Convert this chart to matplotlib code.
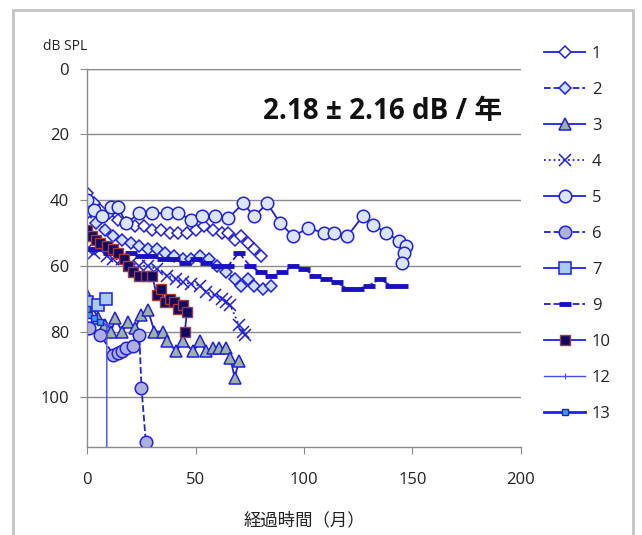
import matplotlib
matplotlib.use("Agg")
import matplotlib.pyplot as plt
from matplotlib.patches import Rectangle

plt.rcParams['font.family'] = ['Open Sans', 'Noto Sans CJK JP', 'DejaVu Sans']

# ---- data (months, dB SPL) ----
x1 = [0, 3, 6, 10, 14, 18, 22, 26, 30, 34, 38, 42, 46, 50, 54, 58, 62, 65, 68, 71, 74, 77, 80]
y1 = [38, 41, 43, 44, 46, 47, 48, 48, 49, 49, 50, 50, 50, 49, 48, 49, 50, 50, 52, 51, 53, 55, 57]

x2 = [0, 4, 8, 12, 16, 20, 24, 28, 32, 36, 40, 44, 48, 52, 56, 60, 64, 68, 71, 74, 77, 81, 85]
y2 = [44, 47, 49, 51, 52, 53, 54, 55, 55, 56, 57, 58, 58, 57, 58, 60, 62, 64, 66, 64, 66, 67, 66]

x3 = [0, 2, 5, 8, 11, 13, 16, 19, 22, 25, 28, 31, 35, 37, 41, 44, 49, 52, 55, 58, 61, 64, 66, 68, 70]
y3 = [69, 72, 76, 78, 80, 76, 80, 77, 79, 75, 73.5, 80, 80, 83, 86, 83, 86, 83, 86, 85, 85, 85, 88, 94, 89]

x4 = [0, 3, 6, 9, 12, 16, 20, 24, 28, 32, 37, 41, 44, 48, 52, 55, 59, 62, 64, 66, 70, 72, 73]
y4 = [55, 56, 55, 57, 58, 58, 59, 60, 60, 61, 63, 64, 65, 65.5, 66, 68, 69, 70, 71, 72, 78, 80, 81]

x5 = [0, 3, 7, 11, 14, 18, 24, 30, 37, 42, 48, 53, 59, 65, 72, 77, 83, 89, 95, 102, 109, 114, 120, 127, 132, 138, 144, 147, 146, 145]
y5 = [40, 43, 45, 42, 42, 47, 44, 44, 44, 44, 46, 45, 45, 45.5, 41, 45, 41, 47, 51, 48.5, 50, 50, 51, 45, 47.5, 50, 52.5, 54, 56, 59]

x6 = [0, 1, 6, 12, 14, 16, 18, 21, 24, 25, 27]
y6 = [79, 79, 81, 87, 86.5, 86, 85, 84.5, 81, 97, 113.5]

x7 = [0, 5, 8.5]
y7 = [71, 72, 70]

x9 = [0, 5, 10, 15, 20, 25, 30, 35, 40, 45, 50, 55, 60, 65, 70, 75, 80, 85, 90, 95, 100, 105, 110, 115, 120, 125, 130, 135, 140, 145]
y9 = [55, 55, 56, 57, 56, 57, 57, 58, 58, 59, 58, 59, 60, 60, 56, 60, 62, 63, 62, 60, 61, 63, 64, 65, 67, 67, 66, 64, 66, 66]

x10 = [0, 2, 4, 6, 9, 12, 14, 17, 19, 21, 24, 27, 30, 32, 34, 36, 38, 40, 42, 44, 46, 45]
y10 = [49, 51, 52, 53, 54, 55, 56, 58, 60, 62, 63, 63, 63, 69, 67, 71, 70, 71, 73, 72, 74, 80]

x12 = [0, 3, 6, 9, 9]
y12 = [74, 76, 77, 78, 130]

x13 = [0, 1, 3, 6]
y13 = [73, 75, 76, 77]

labels = ['1', '2', '3', '4', '5', '6', '7', '9', '10', '12', '13']
xticks = [0, 50, 100, 150, 200]
yticks = [0, 20, 40, 60, 80, 100]

blue = '#1f1fe6'
fig = plt.figure(figsize=(6.42, 5.35), dpi=100)
fig.patches.append(Rectangle((13 / 642, -0.05), (633 - 13) / 642, 1 - 10 / 535 + 0.05,
                             transform=fig.transFigure, fill=False,
                             edgecolor='#c4c4c4', linewidth=2))
ax = fig.add_axes([87.3 / 642, 1 - 446.7 / 535, (520.7 - 87.3) / 642, (446.7 - 68.5) / 535])

common = dict(color=blue, linewidth=1.3, markeredgecolor=blue, markeredgewidth=1.1)
ax.plot(x1, y1, marker='D', markersize=6, markerfacecolor='white', linestyle='-', label=labels[0], **common)
ax.plot(x2, y2, marker='D', markersize=6, markerfacecolor='#cfe0fa', linestyle='--', label=labels[1], **common)
ax.plot(x3, y3, marker='^', markersize=8, markerfacecolor='#9db39b', linestyle='-', label=labels[2], **common)
ax.plot(x4, y4, marker='x', markersize=9, linestyle=':', label=labels[3], **common)
ax.plot(x5, y5, marker='o', markersize=9, markerfacecolor='#dbe6fa', linestyle='-', label=labels[4], **common)
ax.plot(x6, y6, marker='o', markersize=9, markerfacecolor='#aeb0dc', linestyle='--', label=labels[5], **common)
ax.plot(x7, y7, marker='s', markersize=8, markerfacecolor='#a9cdf2', linestyle='-', label=labels[6], **common)
ax.plot(x9, y9, marker='_', markersize=9, linestyle='--', color='#2a1fd0', linewidth=1.3,
        markeredgecolor='#1a10c0', markeredgewidth=3.5, label=labels[7])
ax.plot(x10, y10, marker='s', markersize=7, markerfacecolor='#0d0a66', markeredgecolor='#a83a3a',
        markeredgewidth=1.0, color=blue, linewidth=1.3, linestyle='-', label=labels[8])
ax.plot(x12, y12, marker='+', markersize=5, color='#4a4af0', linewidth=1.0, linestyle='-',
        markeredgewidth=0.8, label=labels[9])
ax.plot(x13, y13, marker='s', markersize=5, markerfacecolor='#3fa0d8', markeredgecolor=blue,
        markeredgewidth=1.0, color=blue, linewidth=2.0, linestyle='-', label=labels[10])

ax.set_xlim(0, 200)
ax.set_ylim(115, 0)
ax.set_xticks(xticks)
ax.set_yticks(yticks)
ax.tick_params(axis='both', direction='out', length=5, color='#8a8a8a', labelsize=12,
               labelcolor='#222222', pad=8)
ax.tick_params(axis='x', pad=13)
for s in ['top', 'right']:
    ax.spines[s].set_visible(False)
for s in ['left', 'bottom']:
    ax.spines[s].set_color('#8a8a8a')
    ax.spines[s].set_linewidth(1.0)
ax.grid(axis='y', color='#8a8a8a', linewidth=1.0)
ax.set_axisbelow(True)
ax.axhline(0, color='#8a8a8a', linewidth=1.0, zorder=0)

ax.set_xlabel('経過時間（月）', fontsize=12.5, color='#222222', labelpad=18)
fig.text(43 / 642, 1 - 47 / 535, 'dB SPL', fontsize=10, color='#222222', va='center', ha='left')
ax.text(0.682, 1 - (111 - 68.5) / (446.7 - 68.5), '2.18 ± 2.16 dB / 年', transform=ax.transAxes,
        fontsize=20, fontweight='bold', color='#111111', ha='center', va='center',
        family=['Open Sans', 'Noto Sans CJK JP'])

leg = fig.legend(loc='upper left', bbox_to_anchor=(537 / 642, 1 - 39 / 535), frameon=False,
                 fontsize=12, labelspacing=1.2, handlelength=2.5, handletextpad=0.4,
                 borderaxespad=0)
for t in leg.get_texts():
    t.set_color('#222222')

fig.savefig('out.png', dpi=100, facecolor='white')
